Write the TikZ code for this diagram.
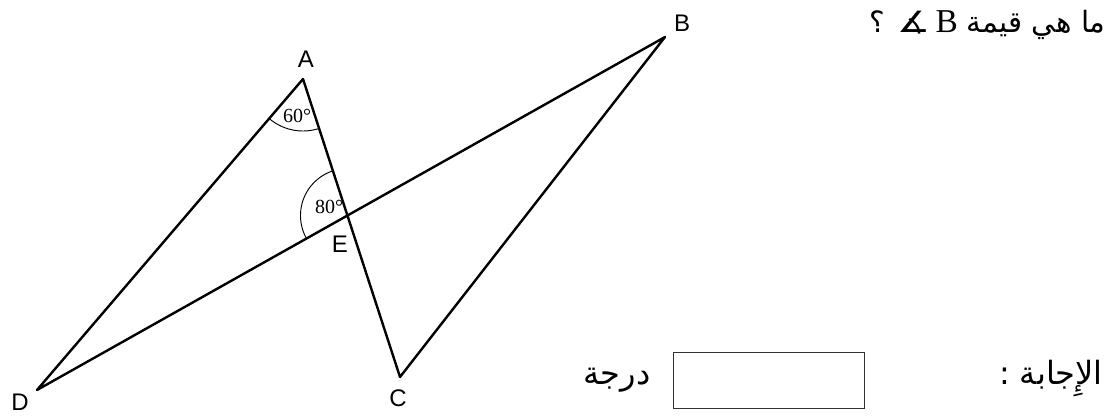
\documentclass[tikz,border=0pt]{standalone}
\usepackage{fontspec}
\usepackage{graphicx}
\usetikzlibrary{calc}
\setmainfont{Liberation Serif}
\newfontfamily\arabicfont[Script=Arabic]{DejaVu Sans}
\newfontfamily\labelfont{Liberation Sans}
\newfontfamily\symfont{DejaVu Sans}
\TeXXeTstate=1
\begin{document}
\begin{tikzpicture}[x=0.75pt,y=0.75pt,
  side/.style={line width=1.8pt, line join=round},
  anglearc/.style={line width=0.7pt},
  vlabel/.style={font=\labelfont\fontsize{18}{20}\selectfont, inner sep=0pt},
  alabel/.style={font=\fontsize{15}{17}\selectfont, inner sep=0pt},
  artext/.style={font=\arabicfont\fontsize{24}{28}\selectfont, inner sep=0pt},
  answerbox/.style={draw=black!80, line width=0.7pt, minimum width=143.25pt, minimum height=42pt, inner sep=0pt}]
\useasboundingbox (0,0) rectangle (1111,-415);
\coordinate (A) at (303,-79);
\coordinate (B) at (665,-37);
\coordinate (C) at (400,-377);
\coordinate (D) at (37,-390);
\coordinate (E) at (intersection of A--C and B--D);
\draw[side] (D) -- (A) -- (C) -- (B) -- cycle;
% angle arcs
\draw[anglearc] ($(A)+(229.5:52)$) arc[start angle=229.5, end angle=288, radius=52];
\draw[anglearc] ($(E)+(107.9:47)$) arc[start angle=107.9, end angle=209.4, radius=47];
\node[alabel] (a60) at (297,-116) {60°};
\node[alabel] (a80) at (329,-207) {80°};
% vertex labels
\node[vlabel] (lA) at (306,-59) {A};
\node[vlabel] (lB) at (682,-23) {B};
\node[vlabel] (lC) at (398,-398) {C};
\node[vlabel] (lD) at (20,-402) {D};
\node[vlabel] (lE) at (340,-244) {E};
% question
\node[artext, anchor=base east, font=\arabicfont\fontsize{22}{26}\selectfont] (q) at (1106,-32) {\beginR ما هي قيمة\endR};
\node[anchor=base east, inner sep=0pt] (qB) at (958,-32) {{\symfont\fontsize{22}{24}\selectfont\scalebox{1.25}[1]{∡}}\hspace{4pt}\fontsize{25}{28}\selectfont B};
\node[artext, anchor=base east, font=\arabicfont\fontsize{22}{26}\selectfont] (qm) at (885,-32) {\beginR ؟\endR};
% answer
\node[artext, anchor=base east] (ans) at (1103,-384) {\beginR الإِجابة :\endR};
\node[answerbox] (box) at (769,-380) {};
\node[artext, anchor=base] (deg) at (617,-384) {\beginR درجة\endR};
\end{tikzpicture}
\end{document}
